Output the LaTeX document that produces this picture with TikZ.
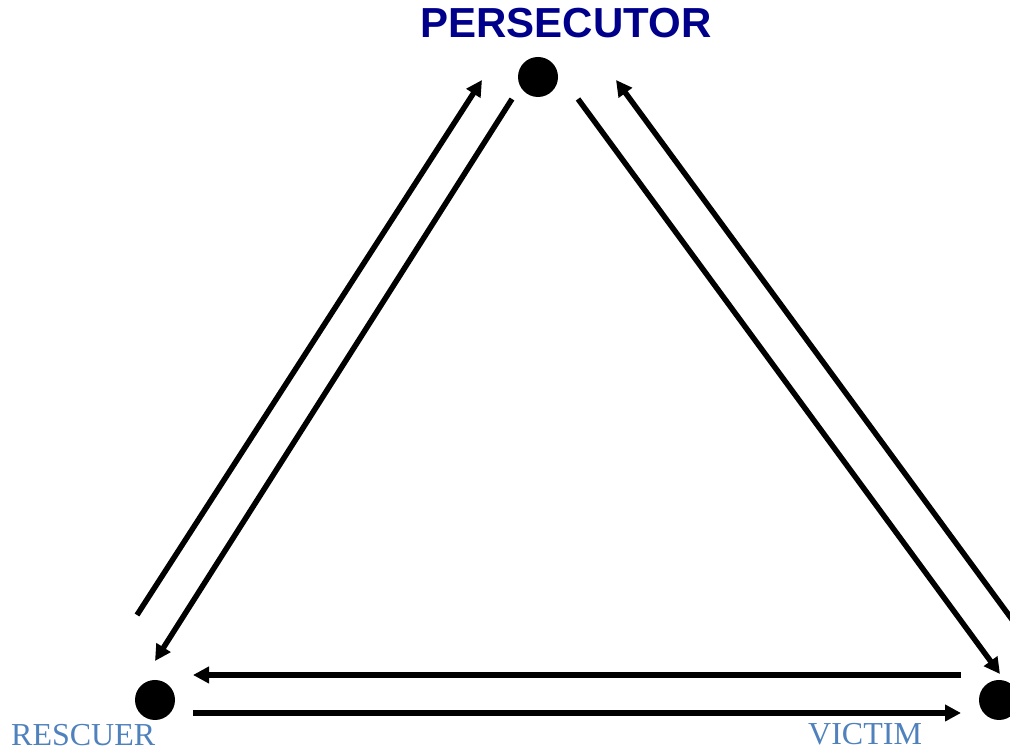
\documentclass[tikz,border=0pt]{standalone}
\usepackage{fontspec}
\setmainfont{Liberation Serif}
\newfontfamily\headfont{Liberation Sans}
\usepackage{xcolor}
\usetikzlibrary{arrows.meta}
\definecolor{navyhead}{RGB}{0,0,139}
\definecolor{rolecol}{RGB}{79,129,189}

\begin{document}
\begin{tikzpicture}[
  x=1pt, y=1pt,
  dot/.style={circle, fill=black, inner sep=0pt, minimum size=40pt},
  ar/.style={-{Triangle[length=16pt, width=16pt]}, line width=5.5pt},
  role/.style={text=rolecol, inner sep=0pt, font=\fontsize{32}{36}\selectfont},
]
\useasboundingbox (0,0) rectangle (1010,751);
% the three corners of the triangle
\node[dot] (per) at (538,674) {};
\node[dot] (res) at (155,51) {};
\node[dot] (vic) at (999,51) {};
% labels
\node[anchor=base, text=navyhead, inner sep=0pt,
  font=\headfont\bfseries\fontsize{42}{50}\selectfont] (perlab) at (566,713) {PERSECUTOR};
\node[role, anchor=base west] (reslab) at (11,5) {RESCUER};
\node[role, anchor=base west] (viclab) at (808,6) {VICTIM};
% arrow ends
\coordinate (rpa) at (137,136);  \coordinate (rpb) at (482,671);
\coordinate (pra) at (512,652);  \coordinate (prb) at (155,90);
\coordinate (pva) at (578,652);  \coordinate (pvb) at (1000,77);
\coordinate (vpa) at (1030,107); \coordinate (vpb) at (616,671);
\coordinate (vra) at (961,76);   \coordinate (vrb) at (193,76);
\coordinate (rva) at (193,38);   \coordinate (rvb) at (961,38);
% the six moves
\draw[ar] (rpa) -- (rpb);
\draw[ar] (pra) -- (prb);
\draw[ar] (pva) -- (pvb);
\draw[ar] (vpa) -- (vpb);
\draw[ar] (vra) -- (vrb);
\draw[ar] (rva) -- (rvb);
\end{tikzpicture}
\end{document}
